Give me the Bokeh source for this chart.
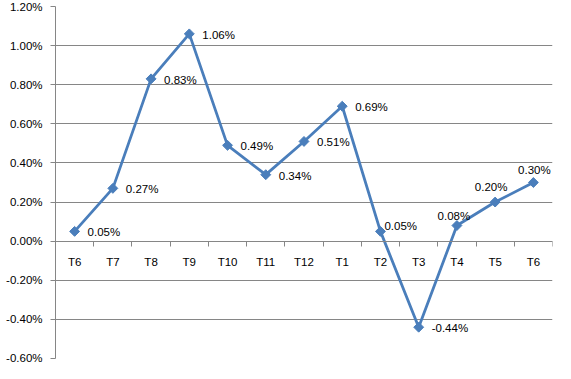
import numpy as np
from bokeh.plotting import figure
from bokeh.models import Range1d, FixedTicker, NumeralTickFormatter, ColumnDataSource, LabelSet
from bokeh.embed import file_html
from bokeh.resources import INLINE
from bokeh.core.properties import value

# ---- data ----
categories = ["T6", "T7", "T8", "T9", "T10", "T11", "T12", "T1", "T2", "T3", "T4", "T5", "T6"]
values_pct = [0.05, 0.27, 0.83, 1.06, 0.49, 0.34, 0.51, 0.69, 0.05, -0.44, 0.08, 0.20, 0.30]
y_ticks_pct = [-0.60, -0.40, -0.20, 0.00, 0.20, 0.40, 0.60, 0.80, 1.00, 1.20]

# ---- label placement (style; screen px, positive dy = up) ----
label_dx = [13, 13, 13, 13, 13, 13, 13, 13, 4, 13, -3, -4, 1]
label_dy = [-1, -1, -1, -1, -1, -1, -1, -1, 5, -1, 10, 15, 13]
label_align = ["left"] * 10 + ["center"] * 3

n = len(categories)
xs = [i + 0.5 for i in range(n)]
ys = [v / 100.0 for v in values_pct]
labels = [f"{v:.2f}%" for v in values_pct]

BLUE = "#4A7EBB"
GRAY = "#868686"
FONT = "Liberation Sans"
FS = "11.5px"

p = figure(width=555, height=363, output_backend="svg", toolbar_location=None,
           x_range=Range1d(0, n), y_range=Range1d(y_ticks_pct[0] / 100, y_ticks_pct[-1] / 100),
           min_border_left=55, min_border_right=3, min_border_top=6, min_border_bottom=5)
p.outline_line_color = None
p.background_fill_color = "white"
p.border_fill_color = "white"

# y axis
p.yaxis.ticker = FixedTicker(ticks=[t / 100 for t in y_ticks_pct])
p.yaxis.formatter = NumeralTickFormatter(format="0.00%")
p.yaxis.axis_line_color = GRAY
p.yaxis.major_tick_line_color = GRAY
p.yaxis.major_tick_out = 5
p.yaxis.major_tick_in = 0
p.yaxis.minor_tick_line_color = None
p.yaxis.major_label_standoff = 8
p.yaxis.major_label_text_font = FONT
p.yaxis.major_label_text_font_size = FS
p.yaxis.major_label_text_color = "#000000"

# x axis at zero
p.xaxis.fixed_location = 0
p.xaxis.ticker = FixedTicker(ticks=xs, minor_ticks=list(range(0, n + 1)))
p.xaxis.major_label_overrides = {x: c for x, c in zip(xs, categories)}
p.xaxis.axis_line_color = GRAY
p.xaxis.major_tick_line_color = None
p.xaxis.major_tick_out = 0
p.xaxis.major_tick_in = 0
p.xaxis.minor_tick_line_color = GRAY
p.xaxis.minor_tick_out = 5
p.xaxis.minor_tick_in = 0
p.xaxis.major_label_standoff = 10
p.xaxis.major_label_text_font = FONT
p.xaxis.major_label_text_font_size = FS
p.xaxis.major_label_text_color = "#000000"

p.xgrid.grid_line_color = None
p.ygrid.ticker = FixedTicker(ticks=[t / 100 for t in y_ticks_pct])
p.ygrid.grid_line_color = GRAY
p.ygrid.grid_line_width = 1

src = ColumnDataSource(dict(x=xs, y=ys, label=labels, dx=label_dx, dy=label_dy, align=label_align))

p.line("x", "y", source=src, line_color=BLUE, line_width=2.8)
p.scatter("x", "y", source=src, marker="square", angle=np.pi / 4, size=7,
          fill_color=BLUE, line_color=BLUE)

lbl = LabelSet(x="x", y="y", text="label", source=src, x_offset="dx", y_offset="dy",
               text_align="align", text_baseline="middle",
               text_font=value(FONT), text_font_size=value(FS), text_color="#000000")
p.add_layout(lbl)

open("out.html", "w").write(file_html(p, INLINE))
